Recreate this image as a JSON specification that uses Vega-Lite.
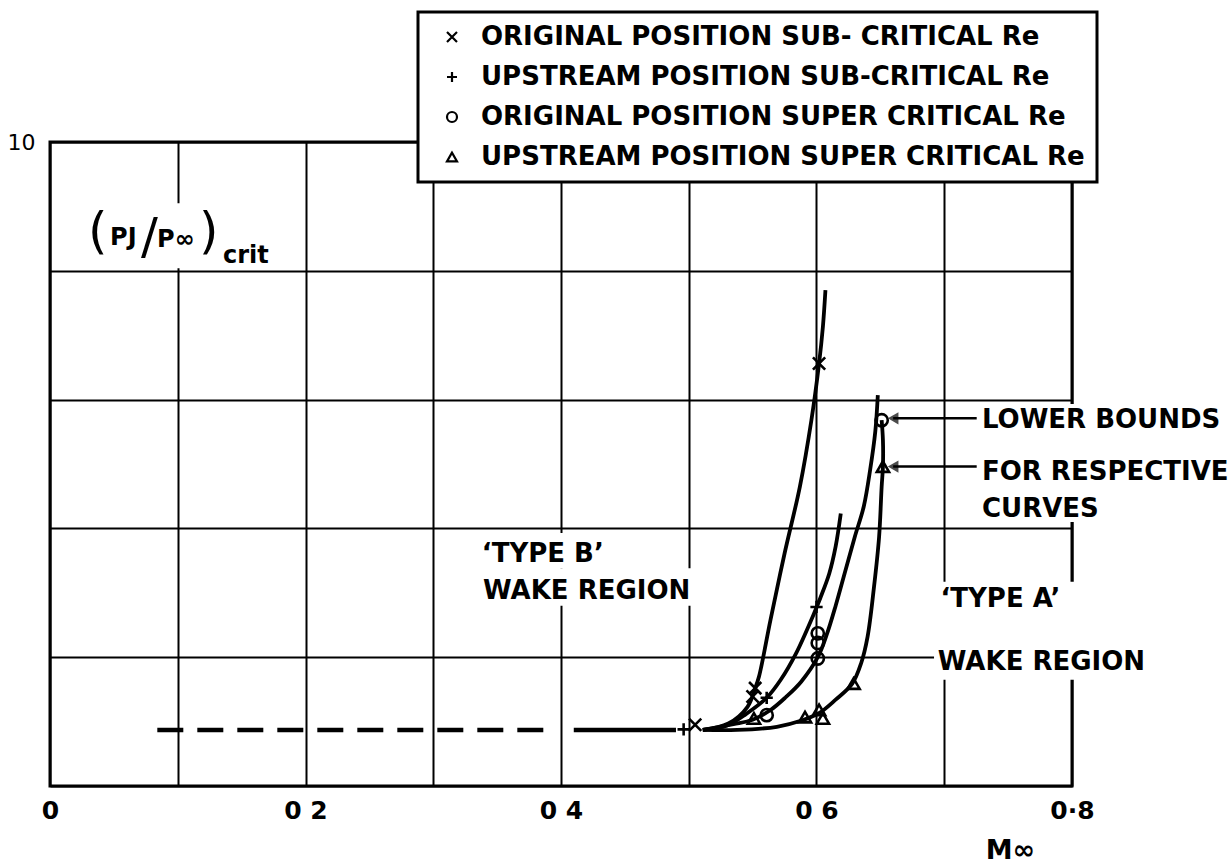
{
  "$schema": "https://vega.github.io/schema/vega-lite/v6.json",
  "width": 1022,
  "height": 644,
  "autosize": "none",
  "padding": {"left": 50, "top": 142, "right": 160, "bottom": 81},
  "background": "white",
  "config": {
    "view": {"stroke": "black", "strokeWidth": 3},
    "font": "DejaVu Sans",
    "axis": {
      "grid": true, "gridColor": "black", "gridWidth": 2, "gridOpacity": 1,
      "domain": false, "ticks": false,
      "labelColor": "black", "labelFont": "DejaVu Sans", "labelFontWeight": "bold",
      "titleColor": "black", "titleFont": "DejaVu Sans"
    },
    "legend": {"strokeWidth": 3}
  },
  "datasets": {
    "ref": [
      {"part": "dash", "x": 0.084, "y": 0.87},
      {"part": "dash", "x": 0.396, "y": 0.87},
      {"part": "solid", "x": 0.41, "y": 0.87},
      {"part": "solid", "x": 0.49, "y": 0.87}
    ],
    "curves": [
      {"s": "c1", "i": 1, "x": 0.511, "y": 0.87},
      {"s": "c1", "i": 2, "x": 0.531, "y": 0.97},
      {"s": "c1", "i": 3, "x": 0.546, "y": 1.23},
      {"s": "c1", "i": 4, "x": 0.552, "y": 1.52},
      {"s": "c1", "i": 5, "x": 0.555, "y": 1.70},
      {"s": "c1", "i": 6, "x": 0.564, "y": 2.58},
      {"s": "c1", "i": 7, "x": 0.575, "y": 3.61},
      {"s": "c1", "i": 8, "x": 0.587, "y": 4.65},
      {"s": "c1", "i": 9, "x": 0.596, "y": 5.68},
      {"s": "c1", "i": 10, "x": 0.602, "y": 6.56},
      {"s": "c1", "i": 11, "x": 0.605, "y": 7.13},
      {"s": "c1", "i": 12, "x": 0.607, "y": 7.70},
      {"s": "c2", "i": 1, "x": 0.511, "y": 0.87},
      {"s": "c2", "i": 2, "x": 0.530, "y": 0.94},
      {"s": "c2", "i": 3, "x": 0.545, "y": 1.12},
      {"s": "c2", "i": 4, "x": 0.561, "y": 1.37},
      {"s": "c2", "i": 5, "x": 0.572, "y": 1.65},
      {"s": "c2", "i": 6, "x": 0.584, "y": 2.06},
      {"s": "c2", "i": 7, "x": 0.597, "y": 2.63},
      {"s": "c2", "i": 8, "x": 0.603, "y": 2.92},
      {"s": "c2", "i": 9, "x": 0.610, "y": 3.30},
      {"s": "c2", "i": 10, "x": 0.615, "y": 3.72},
      {"s": "c2", "i": 11, "x": 0.619, "y": 4.23},
      {"s": "c3", "i": 1, "x": 0.511, "y": 0.87},
      {"s": "c3", "i": 2, "x": 0.535, "y": 0.96},
      {"s": "c3", "i": 3, "x": 0.550, "y": 1.03},
      {"s": "c3", "i": 4, "x": 0.564, "y": 1.18},
      {"s": "c3", "i": 5, "x": 0.576, "y": 1.38},
      {"s": "c3", "i": 6, "x": 0.588, "y": 1.62},
      {"s": "c3", "i": 7, "x": 0.601, "y": 2.00},
      {"s": "c3", "i": 8, "x": 0.608, "y": 2.35},
      {"s": "c3", "i": 9, "x": 0.615, "y": 2.80},
      {"s": "c3", "i": 10, "x": 0.622, "y": 3.30},
      {"s": "c3", "i": 11, "x": 0.630, "y": 3.87},
      {"s": "c3", "i": 12, "x": 0.637, "y": 4.34},
      {"s": "c3", "i": 13, "x": 0.642, "y": 4.91},
      {"s": "c3", "i": 14, "x": 0.646, "y": 5.50},
      {"s": "c3", "i": 15, "x": 0.648, "y": 6.07},
      {"s": "c4", "i": 1, "x": 0.511, "y": 0.87},
      {"s": "c4", "i": 2, "x": 0.538, "y": 0.87},
      {"s": "c4", "i": 3, "x": 0.569, "y": 0.92},
      {"s": "c4", "i": 4, "x": 0.589, "y": 1.02},
      {"s": "c4", "i": 5, "x": 0.602, "y": 1.13},
      {"s": "c4", "i": 6, "x": 0.615, "y": 1.34},
      {"s": "c4", "i": 7, "x": 0.628, "y": 1.59},
      {"s": "c4", "i": 8, "x": 0.635, "y": 1.91},
      {"s": "c4", "i": 9, "x": 0.640, "y": 2.32},
      {"s": "c4", "i": 10, "x": 0.645, "y": 3.09},
      {"s": "c4", "i": 11, "x": 0.649, "y": 3.87},
      {"s": "c4", "i": 12, "x": 0.651, "y": 4.65},
      {"s": "c4", "i": 13, "x": 0.652, "y": 4.96},
      {"s": "c4", "i": 14, "x": 0.652, "y": 5.37},
      {"s": "c4", "i": 15, "x": 0.651, "y": 5.68}
    ],
    "points": [
      {"series": "ORIGINAL POSITION SUB- CRITICAL Re", "x": 0.505, "y": 0.95},
      {"series": "ORIGINAL POSITION SUB- CRITICAL Re", "x": 0.552, "y": 1.52},
      {"series": "ORIGINAL POSITION SUB- CRITICAL Re", "x": 0.550, "y": 1.39},
      {"series": "ORIGINAL POSITION SUB- CRITICAL Re", "x": 0.602, "y": 6.56},
      {"series": "UPSTREAM POSITION SUB-CRITICAL Re", "x": 0.496, "y": 0.88},
      {"series": "UPSTREAM POSITION SUB-CRITICAL Re", "x": 0.561, "y": 1.37},
      {"series": "UPSTREAM POSITION SUB-CRITICAL Re", "x": 0.600, "y": 2.78},
      {"series": "ORIGINAL POSITION SUPER CRITICAL Re", "x": 0.561, "y": 1.10},
      {"series": "ORIGINAL POSITION SUPER CRITICAL Re", "x": 0.601, "y": 2.37},
      {"series": "ORIGINAL POSITION SUPER CRITICAL Re", "x": 0.601, "y": 2.22},
      {"series": "ORIGINAL POSITION SUPER CRITICAL Re", "x": 0.601, "y": 1.98},
      {"series": "ORIGINAL POSITION SUPER CRITICAL Re", "x": 0.651, "y": 5.68},
      {"series": "UPSTREAM POSITION SUPER CRITICAL Re", "x": 0.551, "y": 1.05},
      {"series": "UPSTREAM POSITION SUPER CRITICAL Re", "x": 0.591, "y": 1.07},
      {"series": "UPSTREAM POSITION SUPER CRITICAL Re", "x": 0.602, "y": 1.18},
      {"series": "UPSTREAM POSITION SUPER CRITICAL Re", "x": 0.605, "y": 1.05},
      {"series": "UPSTREAM POSITION SUPER CRITICAL Re", "x": 0.629, "y": 1.59},
      {"series": "UPSTREAM POSITION SUPER CRITICAL Re", "x": 0.652, "y": 4.96}
    ],
    "arrows": [
      {"x": 0.66, "x2": 0.7254, "y": 5.71},
      {"x": 0.66, "x2": 0.7254, "y": 4.96}
    ],
    "masks": [
      {"x": 0.0266, "x2": 0.1769, "y": 8.04, "y2": 9.05},
      {"x": 0.3335, "x2": 0.4478, "y": 3.38, "y2": 3.93},
      {"x": 0.3335, "x2": 0.5104, "y": 2.80, "y2": 3.38},
      {"x": 0.7264, "x2": 0.9221, "y": 4.10, "y2": 5.93},
      {"x": 0.6920, "x2": 0.8730, "y": 1.65, "y2": 3.17}
    ],
    "notes": [
      {"g": "big", "t": "‘TYPE B’", "x": 0.338, "y": 3.48},
      {"g": "big", "t": "WAKE REGION", "x": 0.339, "y": 2.91},
      {"g": "big", "t": "‘TYPE A’", "x": 0.697, "y": 2.78},
      {"g": "big", "t": "WAKE REGION", "x": 0.695, "y": 1.80},
      {"g": "big", "t": "LOWER BOUNDS", "x": 0.7295, "y": 5.56},
      {"g": "big", "t": "FOR RESPECTIVE", "x": 0.7295, "y": 4.75},
      {"g": "big", "t": "CURVES", "x": 0.7295, "y": 4.18},
      {"g": "paren", "t": "(", "x": 0.0297, "y": 8.35},
      {"g": "paren", "t": "/", "x": 0.0712, "y": 8.28},
      {"g": "paren", "t": ")", "x": 0.1166, "y": 8.35},
      {"g": "sym", "t": "PJ", "x": 0.047, "y": 8.40},
      {"g": "sym", "t": "P∞", "x": 0.0838, "y": 8.37},
      {"g": "sym", "t": "crit", "x": 0.1354, "y": 8.12}
    ]
  },
  "layer": [
    {
      "data": {"name": "masks"},
      "mark": {"type": "rect", "fill": "white", "stroke": null},
      "encoding": {
        "x": {
          "field": "x", "type": "quantitative",
          "scale": {"domain": [0, 0.8], "nice": false, "zero": false},
          "axis": {
            "values": [0, 0.1, 0.2, 0.3, 0.4, 0.5, 0.6, 0.7, 0.8],
            "labelExpr": "abs(datum.value) < 0.001 ? '0' : abs(datum.value-0.2) < 0.001 ? '0 2' : abs(datum.value-0.4) < 0.001 ? '0 4' : abs(datum.value-0.6) < 0.001 ? '0 6' : abs(datum.value-0.8) < 0.001 ? '0·8' : ''",
            "labelFontSize": 25, "labelPadding": 12, "labelBaseline": "top",
            "labelOverlap": false, "labelFlush": false,
            "title": "M∞", "titleFontSize": 27, "titleFontWeight": "bold",
            "titleX": 960, "titleY": 72, "titleAlign": "center", "titleBaseline": "alphabetic"
          }
        },
        "x2": {"field": "x2"},
        "y": {
          "field": "y", "type": "quantitative",
          "scale": {"domain": [0, 10], "nice": false, "zero": false},
          "axis": {
            "values": [0, 2, 4, 6, 8, 10],
            "labelExpr": "datum.value === 10 ? '10' : ''",
            "labelFontSize": 22, "labelFontWeight": "normal", "labelPadding": 15, "labelBaseline": "middle",
            "title": null
          }
        },
        "y2": {"field": "y2"}
      }
    },
    {
      "data": {"name": "ref"},
      "transform": [{"filter": "datum.part === 'dash'"}],
      "mark": {"type": "line", "color": "black", "strokeWidth": 4.5, "strokeDash": [26, 14]},
      "encoding": {
        "x": {"field": "x", "type": "quantitative"},
        "y": {"field": "y", "type": "quantitative"}
      }
    },
    {
      "data": {"name": "ref"},
      "transform": [{"filter": "datum.part === 'solid'"}],
      "mark": {"type": "line", "color": "black", "strokeWidth": 4.5},
      "encoding": {
        "x": {"field": "x", "type": "quantitative"},
        "y": {"field": "y", "type": "quantitative"}
      }
    },
    {
      "data": {"name": "curves"},
      "mark": {"type": "line", "color": "black", "strokeWidth": 3.8, "interpolate": "catmull-rom"},
      "encoding": {
        "x": {"field": "x", "type": "quantitative"},
        "y": {"field": "y", "type": "quantitative"},
        "detail": {"field": "s"},
        "order": {"field": "i", "type": "quantitative"}
      }
    },
    {
      "data": {"name": "arrows"},
      "mark": {"type": "rule", "color": "black", "strokeWidth": 2.5},
      "encoding": {
        "x": {"field": "x", "type": "quantitative"},
        "x2": {"field": "x2"},
        "y": {"field": "y", "type": "quantitative"}
      }
    },
    {
      "data": {"name": "arrows"},
      "mark": {"type": "point", "shape": "triangle-left", "filled": true, "color": "black", "size": 150},
      "encoding": {
        "x": {"field": "x", "type": "quantitative"},
        "y": {"field": "y", "type": "quantitative"}
      }
    },
    {
      "data": {"name": "points"},
      "mark": {"type": "point", "filled": false, "color": "black", "strokeWidth": 2.6, "size": 150, "opacity": 1},
      "encoding": {
        "x": {"field": "x", "type": "quantitative"},
        "y": {"field": "y", "type": "quantitative"},
        "shape": {
          "field": "series", "type": "nominal",
          "scale": {
            "domain": ["ORIGINAL POSITION SUB- CRITICAL Re", "UPSTREAM POSITION SUB-CRITICAL Re", "ORIGINAL POSITION SUPER CRITICAL Re", "UPSTREAM POSITION SUPER CRITICAL Re"],
            "range": ["M-1,-1L1,1M-1,1L1,-1", "M-1,0L1,0M0,-1L0,1", "circle", "triangle-up"]
          },
          "legend": {
            "orient": "none", "legendX": 368, "legendY": -130, "direction": "vertical",
            "title": null, "zindex": 1,
            "fillColor": "white", "strokeColor": "black", "padding": 12,
            "rowPadding": 14, "symbolOffset": 9, "labelOffset": 16,
            "labelFont": "DejaVu Sans", "labelFontSize": 26, "labelFontWeight": "bold",
            "labelColor": "black", "labelLimit": 1000,
            "symbolSize": 100, "symbolStrokeWidth": 2.2, "symbolStrokeColor": "black"
          }
        }
      }
    },
    {
      "data": {"name": "notes"},
      "transform": [{"filter": "datum.g === 'big'"}],
      "mark": {"type": "text", "align": "left", "baseline": "alphabetic", "font": "DejaVu Sans", "fontWeight": "bold", "fontSize": 26, "color": "black"},
      "encoding": {
        "x": {"field": "x", "type": "quantitative"},
        "y": {"field": "y", "type": "quantitative"},
        "text": {"field": "t"}
      }
    },
    {
      "data": {"name": "notes"},
      "transform": [{"filter": "datum.g === 'paren'"}],
      "mark": {"type": "text", "align": "left", "baseline": "alphabetic", "font": "DejaVu Sans", "fontSize": 50, "color": "black"},
      "encoding": {
        "x": {"field": "x", "type": "quantitative"},
        "y": {"field": "y", "type": "quantitative"},
        "text": {"field": "t"}
      }
    },
    {
      "data": {"name": "notes"},
      "transform": [{"filter": "datum.g === 'sym'"}],
      "mark": {"type": "text", "align": "left", "baseline": "alphabetic", "font": "DejaVu Sans", "fontWeight": "bold", "fontSize": 24, "color": "black"},
      "encoding": {
        "x": {"field": "x", "type": "quantitative"},
        "y": {"field": "y", "type": "quantitative"},
        "text": {"field": "t"}
      }
    }
  ]
}
